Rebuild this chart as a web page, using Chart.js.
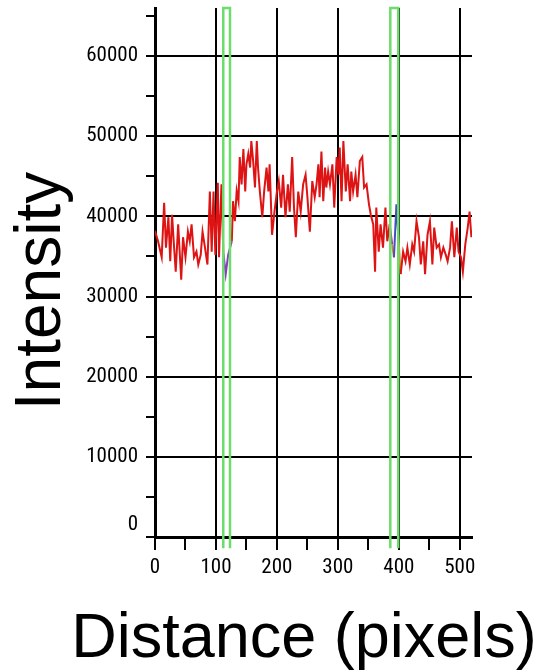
<!DOCTYPE html>
<html>
<head>
<meta charset="utf-8">
<script src="https://cdn.jsdelivr.net/npm/chart.js@4.4.0/dist/chart.umd.min.js"></script>
<style>
  html, body { margin: 0; padding: 0; background: #fff; }
  #wrap { width: 537px; height: 670px; }
</style>
</head>
<body>
<div id="wrap"><canvas id="profile" width="537" height="670"></canvas></div>
<script>
// line profile
const distance = [0, 5, 11, 15, 18, 22, 25, 28, 31, 34, 38, 43, 46, 50, 54, 57, 60, 64, 68, 71, 75, 78, 82, 86, 90, 93, 96, 99, 103, 105, 109, 112, 116, 120, 126,
  128, 131, 134, 137, 139, 142, 145, 148, 150, 153, 156, 158, 161, 164, 167, 169, 172, 176, 179, 183, 186, 188, 192, 196, 200, 203, 207, 210, 214, 218, 221, 225, 228, 231, 235, 239, 243, 247, 250, 254, 258, 262,
  265, 268, 270, 273, 276, 279, 281, 284, 287, 291, 294, 298, 301, 303, 306, 309, 313, 316, 320, 322, 325, 329, 332, 336, 340, 343, 347, 351, 354, 358, 361, 363, 367, 370, 374, 378, 381, 385, 389,
  392, 396, 399, 403, 407, 411, 414, 418, 422, 425, 429, 433, 436, 440, 443, 447, 451, 455, 458, 462, 466, 469, 473, 477, 480, 484, 487, 491, 495, 498, 502, 505, 509, 513, 516, 519];
const intensity = [38200, 36900, 34900, 41700, 36100, 39900, 34400, 40200, 36500, 33100, 39000, 32100, 37400, 34900, 38100, 36900, 39000, 34900, 35600, 34000, 35200, 38100, 36100, 34000, 43100, 35600, 43100, 35200, 44200, 34900, 44000, 35600, 32800, 35200, 36900,
  41900, 39400, 43200, 41900, 47400, 44000, 48400, 43100, 46500, 47800, 46100, 49400, 46900, 43600, 49400, 46100, 43100, 39900, 43100, 46100, 43100, 46500, 37700, 40600, 43100, 44400, 41100, 45200, 39900, 44000, 40600, 47400, 41100, 37400, 43100, 40600, 44000, 45200, 42400, 38100, 44400, 42400,
  44000, 46500, 42400, 48100, 41900, 46100, 43600, 45600, 44000, 46500, 41100, 47400, 45200, 48600, 41900, 49400, 43100, 46500, 41900, 45600, 43100, 45200, 42400, 46900, 47400, 43600, 44000, 41500, 40200, 39000, 33100, 41100, 35600, 39000, 36100, 41100, 36900, 39000, 36500,
  34900, 41500, 37700, 32800, 35600, 34400, 36100, 34000, 36500, 35600, 39400, 37400, 34000, 36900, 32800, 37700, 39400, 34000, 38600, 36100, 36500, 34900, 36100, 35200, 34400, 36100, 39400, 34900, 38600, 35600, 34900, 33100, 36500, 38600, 40600, 37400];

// green selection markers (pairs of x positions)
const markerLeft = [112, 123];
const markerRight = [386, 399];
const markerTop = 66000;
const markerLow = -1400;

// tick marks and the ones that get a label
const xTickValues = [0, 50, 100, 150, 200, 250, 300, 350, 400, 450, 500];
const xTickLabels = [0, 100, 200, 300, 400, 500];
const yTickValues = [0, 5000, 10000, 15000, 20000, 25000, 30000, 35000, 40000, 45000, 50000, 55000, 60000, 65000];
const yTickLabels = [0, 10000, 20000, 30000, 40000, 50000, 60000];

const profilePoints = distance.map((d, i) => ({ x: d, y: intensity[i] }));

function markerPath(pair) {
  return [
    { x: pair[0], y: markerLow },
    { x: pair[0], y: markerTop },
    { x: pair[1], y: markerTop },
    { x: pair[1], y: markerLow }
  ];
}

// colour of the profile near the markers (purple / blue / orange bits)
function segmentColour(ctx) {
  const x = ctx.p0.parsed.x;
  if (x >= 112 && x < 126) return "#8a3cc0";
  if (x >= 385 && x < 389) return "#9a3a8a";
  if (x >= 389 && x < 392) return "#c88a2a";
  if (x >= 392 && x < 399) return "#4a4ac8";
  if (x >= 399 && x < 403) return "#d09030";
  return undefined;
}

const tickFont = { family: "'Roboto Condensed', 'DejaVu Sans Condensed', Arial, sans-serif", size: 21 };

// fixed axis boxes so the plot area lands where the original one is
function fixBox(w, h) {
  return (s) => {
    if (w) s.width = w;
    if (h) s.height = h;
    s.paddingTop = 0;
    s.paddingBottom = 0;
    s.paddingLeft = 0;
    s.paddingRight = 0;
  };
}

const axisTitles = {
  id: "axisTitles",
  afterDraw(chart) {
    const ctx = chart.ctx;
    ctx.save();
    ctx.fillStyle = "#000";
    ctx.textAlign = "center";
    ctx.textBaseline = "alphabetic";
    ctx.font = "64px 'Liberation Sans', Arial, sans-serif";
    ctx.translate(60, 291);
    ctx.rotate(-Math.PI / 2);
    ctx.fillText("Intensity", 0, 0);
    ctx.restore();

    ctx.save();
    ctx.fillStyle = "#000";
    ctx.textAlign = "center";
    ctx.textBaseline = "alphabetic";
    ctx.font = "63px 'Liberation Sans', Arial, sans-serif";
    ctx.fillText("Distance (pixels)", 304, 657);
    ctx.restore();
  }
};

const ctx = document.getElementById("profile").getContext("2d");
new Chart(ctx, {
  type: "line",
  data: {
    datasets: [
      {
        data: markerPath(markerLeft),
        borderColor: "#6cdc6c",
        borderWidth: 2.5,
        pointRadius: 0,
        clip: false
      },
      {
        data: markerPath(markerRight),
        borderColor: "#6cdc6c",
        borderWidth: 2.5,
        pointRadius: 0,
        clip: false
      },
      {
        data: profilePoints,
        borderColor: "#de1414",
        borderWidth: 2,
        pointRadius: 0,
        tension: 0,
        segment: { borderColor: segmentColour }
      }
    ]
  },
  options: {
    responsive: false,
    animation: false,
    devicePixelRatio: 1,
    layout: { padding: { top: 8, right: 65, left: 0, bottom: 0 } },
    plugins: {
      legend: { display: false },
      tooltip: { enabled: false }
    },
    scales: {
      x: {
        type: "linear",
        min: 0,
        max: 520,
        afterBuildTicks: (s) => { s.ticks = xTickValues.map((v) => ({ value: v })); },
        afterFit: fixBox(0, 133),
        ticks: {
          autoSkip: false,
          maxRotation: 0,
          padding: 5,
          color: "#000",
          font: tickFont,
          callback: (v) => (xTickLabels.includes(v) ? String(v) : "")
        },
        grid: {
          color: (c) => (c.tick && c.tick.value > 0 && xTickLabels.includes(c.tick.value) ? "#000" : "transparent"),
          tickColor: "#000",
          lineWidth: 2,
          tickLength: 13,
          tickWidth: 2
        },
        border: { color: "#000", width: 3 }
      },
      y: {
        min: 0,
        max: 66000,
        afterBuildTicks: (s) => { s.ticks = yTickValues.map((v) => ({ value: v })); },
        afterFit: fixBox(155, 0),
        ticks: {
          autoSkip: false,
          padding: 8,
          color: "#000",
          font: tickFont,
          // the zero sits a bit above its tick in the original
          callback: (v) => (v === 0 ? ["0", ""] : yTickLabels.includes(v) ? String(v) : "")
        },
        grid: {
          color: (c) => (c.tick && c.tick.value > 0 && yTickLabels.includes(c.tick.value) ? "#000" : "transparent"),
          tickColor: "#000",
          lineWidth: 2,
          tickLength: 9,
          tickWidth: 2
        },
        border: { color: "#000", width: 3 }
      }
    }
  },
  plugins: [axisTitles]
});
</script>
</body>
</html>
